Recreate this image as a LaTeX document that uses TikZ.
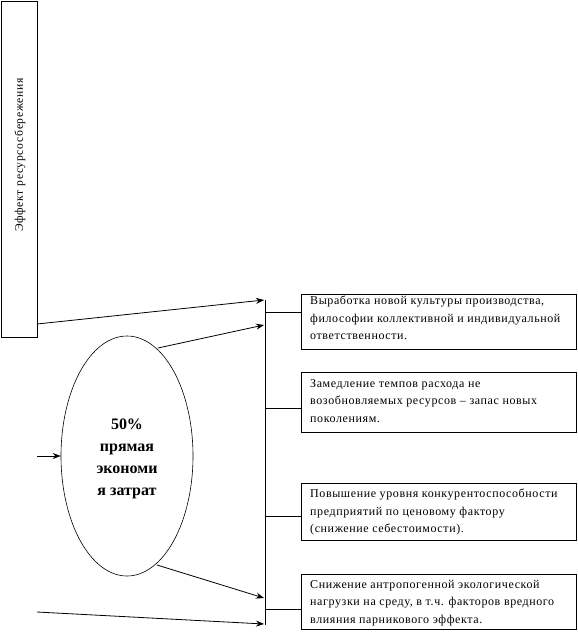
\documentclass[tikz,border=0pt]{standalone}
\usepackage{fontspec}
\setmainfont{Liberation Serif}
\usetikzlibrary{arrows.meta,shapes.geometric}
\tikzset{
  ln/.style={line width=0.8pt},
  arr/.style={ln,-{Stealth[length=8pt,width=6pt]}},
  effbox/.style={draw,line width=0.8pt,anchor=north west,inner sep=0pt},
  rbox/.style={draw,ln,anchor=north west,minimum width=275pt,inner sep=0pt},
  txt/.style={anchor=north west,align=left,inner sep=0pt,font=\fontsize{12}{17.5}\selectfont\addfontfeature{LetterSpace=5}},
}
\begin{document}
\begin{tikzpicture}[x=1pt,y=-1pt]
\useasboundingbox (0,0) rectangle (578,638);
% left tall box
\node[effbox,minimum width=36pt,minimum height=336pt] (eff) at (1,1) {};
\node[rotate=90,font=\fontsize{11.6}{13}\selectfont\addfontfeature{LetterSpace=6}] (efft) at (20,155) {Эффект ресурсосбережения};
% ellipse
\node[draw,ellipse,line width=0.6pt,minimum width=132pt,minimum height=240pt,inner sep=0pt] (ell) at (127,456) {};
\node[align=center,font=\bfseries\fontsize{16}{22}\selectfont] (ellt) at (127,459) {50\%\\прямая\\экономи\\я затрат};
% vertical collector line
\coordinate (vtop) at (265,300);
\coordinate (vbot) at (265,625);
\draw[ln] (vtop) -- (vbot);
% arrows into the collector
\coordinate (a1s) at (37,324);
\coordinate (a1e) at (264,300);
\coordinate (a2s) at (158,348);
\coordinate (a2e) at (264,325);
\coordinate (a3s) at (157,565);
\coordinate (a3e) at (264,598);
\coordinate (a4s) at (37,612);
\coordinate (a4e) at (264,624);
\draw[arr] (a1s) -- (a1e);
\draw[arr] (a2s) -- (a2e);
\draw[arr] (a3s) -- (a3e);
\draw[arr] (a4s) -- (a4e);
% input arrow
\coordinate (in) at (37,456);
\draw[arr] (in) -- (ell.west);
% right boxes
\node[rbox,minimum height=55pt] (b1) at (301,294) {};
\node[rbox,minimum height=60pt] (b2) at (301,372) {};
\node[rbox,minimum height=57pt] (b3) at (301,483) {};
\node[rbox,minimum height=55pt] (b4) at (301,574) {};
\node[txt] (t1) at (310,296) {Выработка новой культуры производства,\\философии коллективной и индивидуальной\\ответственности.};
\node[txt] (t2) at (310,379) {Замедление темпов расхода не\\возобновляемых ресурсов -- запас новых\\поколениям.};
\node[txt] (t3) at (310,489) {Повышение уровня конкурентоспособности\\предприятий по ценовому фактору\\(снижение себестоимости).};
\node[txt] (t4) at (310,580) {Снижение антропогенной экологической\\нагрузки на среду, в т.ч. факторов вредного\\влияния парникового эффекта.};
% branches
\coordinate (c1) at (265,312);
\coordinate (c2) at (265,408);
\coordinate (c3) at (265,516);
\coordinate (c4) at (265,609);
\draw[ln] (c1) -- (c1 -| b1.west);
\draw[ln] (c2) -- (c2 -| b2.west);
\draw[ln] (c3) -- (c3 -| b3.west);
\draw[ln] (c4) -- (c4 -| b4.west);
\end{tikzpicture}
\end{document}
